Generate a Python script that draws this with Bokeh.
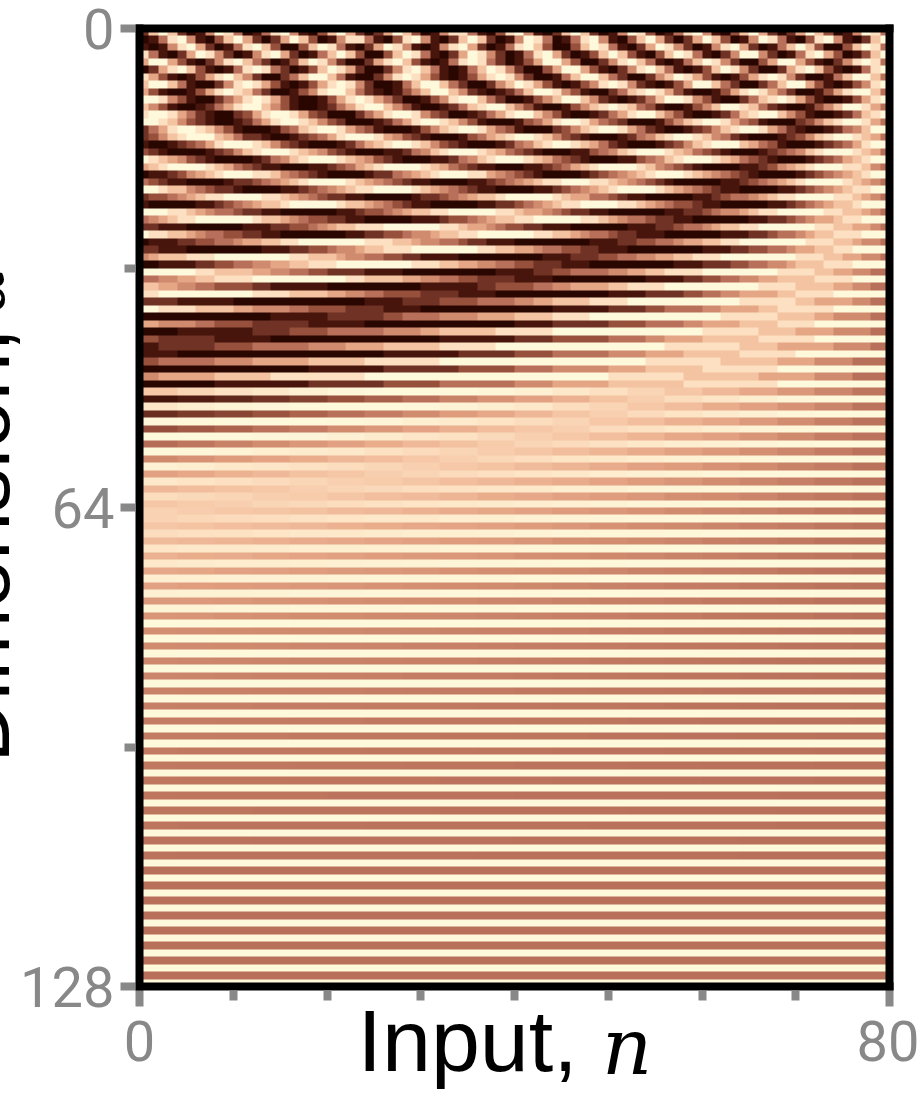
import numpy as np
from bokeh.embed import file_html
from bokeh.resources import INLINE
from bokeh.plotting import figure
from bokeh.models import FixedTicker, LinearAxis, LinearColorMapper, Range1d

# Heat map, one pair of rows per entry below.
# Every entry reads the row from the RIGHT edge of the chart to the left.
LEVELS = {"0": -1.0, "1": -0.75, "2": -0.5, "3": -0.25, "4": 0.0, "5": 0.2, "6": 0.4, "7": 0.6, "8": 0.8, "9": 1.0}

fast_rows = [
 ("4895103796"+"2026973015"+"9841038951"+"0279720159"+"8301488510"+"3796202697"+"3015984104"+"8951027972",
  "9720159830"+"1489510379"+"6202697301"+"5984104895"+"1027972015"+"9830148851"+"0379620269"+"7301598410"),
 ("4897300379"+"7410269851"+"0258962014"+"8973003798"+"4102698510"+"1589620148"+"9730037984"+"1026985101",
  "9731036984"+"1025995201"+"4897301379"+"7310269841"+"0258962014"+"8973003797"+"4102698510"+"2589620148"),
 ("4898520136"+"9963002589"+"7410147985"+"2003699631"+"0248984101"+"3798620025"+"8973102479"+"8520136996",
  "9841013798"+"6200258973"+"1014798520"+"1369963002"+"5897410147"+"9852002689"+"7310248984"+"1013798620"),
 ("4799741002"+"5898631013"+"6897520024"+"7997410025"+"8986310136"+"8985200147"+"9974200257"+"9863101368",
  "9853101369"+"9742002479"+"9631012589"+"8531013689"+"7520024799"+"7410025898"+"6310136898"+"5200147997"),
 ("4799863100"+"2468986310"+"0136898742"+"0013589974"+"2101257997"+"5310124799"+"8531002478"+"9863100136",
  "9863100136"+"8987420013"+"5899742101"+"2579975310"+"0247998531"+"0024689863"+"1001368986"+"4200135899"),
 ("4689975310"+"0124789975"+"3100134789"+"8753100135"+"7998742100"+"1357998642"+"1001357998"+"6421001357",
  "9874210013"+"5799874210"+"0135799864"+"2100135799"+"8642100235"+"8998642000"+"2368998632"+"0012468998"),
 ("4689987532"+"0001346899"+"8753100023"+"4689986431"+"0001357899"+"8642100023"+"5789986421"+"0012357899",
  "9975421001"+"2468998753"+"2100124689"+"9875320001"+"3468998753"+"1000134689"+"9874310001"+"3578998642"),
 ("4678998753"+"2100012457"+"8998754210"+"0012357899"+"8764310001"+"2356899986"+"4321001224"+"6799987532",
  "9986432100"+"0134679998"+"7532100012"+"4678998754"+"2100012357"+"8998764210"+"0012357899"+"9864321001"),
 ("4678999875"+"4321000123"+"4678999875"+"4311000123"+"4678999875"+"4211000123"+"5678999875"+"3210000123",
  "9987643210"+"0012346789"+"9987543110"+"0012346789"+"9987542110"+"0012356789"+"9987542100"+"0012356789"),
 ("4578899987"+"6532110000"+"1234578999"+"9876432110"+"0011234678"+"9999876432"+"1100011234"+"6789999876",
  "9987654321"+"0000123456"+"7899987654"+"3210000123"+"4568899987"+"6542210000"+"1234578899"+"9876532110"),
 ("4567899998"+"7654321100"+"0001234567"+"8899988765"+"4321100001"+"1234567899"+"9987654322"+"1000011234",
  "9988765432"+"1100001123"+"4567899998"+"7654321100"+"0011234567"+"8999988765"+"4321100001"+"2234577899"),
 ("4567889999"+"8876544321"+"1000001123"+"4466789999"+"9877654322"+"1000001122"+"3456788999"+"9887654332",
  "9998776543"+"2110000011"+"2334567889"+"9998876543"+"2211000001"+"1234567789"+"9999877654"+"3211000001"),
 ("4567788999"+"9988765543"+"2211000000"+"1122345667"+"8899999887"+"7654332110"+"0000011223"+"4456788999",
  "9998876654"+"3221100000"+"0112234456"+"7889999988"+"7765433211"+"1000001122"+"3345677899"+"9999887654"),
 ("4566778899"+"9999887765"+"4432211100"+"0000111223"+"3456678899"+"9999888776"+"5433221110"+"0000011122",
  "9998887765"+"4432211100"+"0000111223"+"4456778899"+"9999887765"+"5433221100"+"0000011223"+"3445677889"),
 ("4556778889"+"9999998877"+"6654433221"+"1100000000"+"1112234455"+"6778889999"+"9998877665"+"4433221110",
  "9999887766"+"5443322111"+"0000000011"+"1223344566"+"7788999999"+"9888776554"+"3322111000"+"0000011122"),
 ("4556677888"+"9999999988"+"8776655443"+"3222111000"+"0000001111"+"2233445567"+"7788999999"+"9988877765",
  "9999888777"+"6554433222"+"1110000000"+"0011122233"+"4455667788"+"8999999998"+"8877665544"+"3322111100"),
 ("4567889999"+"8876544321"+"1000001122"+"3456778999", "9988776543"+"2110000011"+"2234567789"+"9999887654"),
 ("4567788999"+"9988766543"+"3211100000"+"1112334567", "9998876654"+"3221100000"+"0112233456"+"7788999998"),
 ("4566788899"+"9999887765"+"4433221100"+"0000011122", "9998887665"+"4432211100"+"0000011223"+"3455677889"),
 ("4556778889"+"9999998877"+"6655443222"+"1110000000", "9999887766"+"5443322211"+"0000000011"+"1222334556"),
 ("4556677888"+"9999999988"+"8777655444"+"3322111100", "9999888777"+"6654433322"+"1111000000"+"0001112223"),
 ("4556667788"+"8899999999"+"9888777665"+"5444332221", "9999988877"+"7665544433"+"2221111000"+"0000000011"),
 ("4455667778"+"8889999999"+"9999888877"+"7666554443", "9999998888"+"7776655544"+"3332222111"+"1000000000"),
 ("4455666777"+"7888899999"+"9999999988"+"8887776665", "9999998888"+"8777766655"+"4444333222"+"2111110000"),
]

# Slow rows: percent of the colour scale's half-range, one number per four columns.
slow_rows = [
 ([5,17,29,42,53,63,72,80,87,93,97,99,100,99,97,93,87,81,73,64],
  [100,98,96,91,85,78,69,60,48,37,26,14,0,-12,-24,-36,-48,-59,-68,-77]),
 ([3,16,26,36,45,56,64,72,79,86,91,95,98,99,100,99,97,95,91,85],
  [100,99,97,93,89,83,77,69,62,52,42,33,21,10,0,-10,-22,-33,-42,-53]),
 ([3,12,22,31,41,48,57,64,72,78,83,88,92,96,98,99,100,100,98,97],
  [100,99,97,95,91,87,82,77,69,63,56,47,39,29,21,10,2,-9,-17,-26]),
 ([3,10,19,28,36,42,50,57,64,69,75,81,85,89,93,96,97,99,100,100],
  [100,99,98,96,93,91,87,82,77,72,66,59,53,45,37,29,22,14,5,-2]),
 ([3,10,17,24,31,37,44,50,56,62,67,72,77,82,86,89,92,95,97,98],
  [100,99,98,97,95,93,90,87,83,79,74,69,64,57,52,45,39,33,26,19]),
 ([2,9,14,21,26,33,37,44,50,54,60,64,69,73,78,81,85,87,91,93],
  [100,100,99,98,97,95,93,90,87,84,80,77,72,68,63,59,53,48,42,37]),
 ([2,7,12,17,22,28,33,39,44,48,53,57,62,66,69,73,77,80,83,86],
  [100,100,99,98,97,96,95,92,90,87,85,82,79,75,72,68,64,60,56,52]),
 ([2,7,10,16,21,24,29,34,37,42,45,50,54,57,62,66,68,72,75,78],
  [100,100,99,99,98,97,96,94,93,91,89,87,84,82,79,75,73,69,66,63]),
 ([2,5,9,14,17,21,26,29,33,37,41,44,48,52,54,59,62,64,67,71],
  [100,100,100,99,98,98,97,96,95,93,91,90,87,86,84,81,79,77,74,71]),
 ([2,5,9,12,16,19,22,26,29,33,36,39,42,45,48,52,54,57,60,63],
  [100,100,100,99,99,98,97,97,96,95,93,92,91,89,87,86,84,82,80,78]),
 ([2,3,7,10,12,16,19,22,24,28,31,33,36,39,42,44,47,50,52,54],
  [100,100,100,99,99,99,98,97,97,96,95,95,93,92,91,90,88,87,86,84]),
 ([1,4,6,9,11,14,17,19,22,24,27,29,32,34,36,39,41,44,45,48],
  [100,100,100,100,99,99,99,98,98,97,96,96,95,94,93,92,91,90,89,87]),
 ([1,3,5,8,10,12,14,17,19,21,23,25,28,29,32,34,36,37,40,42],
  [100,100,100,100,100,99,99,99,98,98,97,97,96,96,95,94,93,93,92,91]),
 ([1,3,5,7,9,10,12,14,16,18,20,22,24,26,28,29,31,33,35,37],
  [100,100,100,100,100,99,99,99,99,98,98,98,97,97,96,96,95,94,94,93]),
 ([1,2,4,6,7,9,11,12,14,16,17,19,21,22,24,26,27,29,31,32],
  [100,100,100,100,100,100,99,99,99,99,98,98,98,97,97,97,96,96,95,95]),
 ([0,2,4,5,6,8,9,11,12,14,15,17,18,19,21,22,24,25,27,28], [100]),
 ([0,2,3,4,6,7,8,9,11,12,13,14,16,17,18,19,21,22,23,24], [100]),
 ([0,2,3,4,5,6,7,8,9,10,11,13,14,15,16,17,18,19,20,21], [100]),
 ([0,1,2,3,4,5,6,7,8,9,10,11,12,13,14,14,15,16,17,18], [100]),
 ([0,1,2,3,4,4,5,6,7,8,9,9,10,11,12,13,13,14,15,16], [100]),
 ([0,1,2,2,3,4,5,5,6,7,8,8,9,10,11,11,12,13,13,14], [100]),
 ([0,1,1,2,3,3,4,5,5,6,6,7,8,8,9,10,10,11,11,12], [100]),
 ([0,1,1,2,2,3,3,4,5,5,6,6,7,7,8,8,9,9,10,10], [100]),
 ([0,0,1,1,2,2,3,3,4,4,5,5,6,6,7,7,8,8,9,9], [100]),
 ([0,0,1,1,2,2,3,3,3,4,4,5,5,5,6,6,7,7,7,8], [100]),
 ([0,0,1,1,1,2,2,3,3,3,4,4,4,5,5,5,6,6,6,7], [100]),
 ([0,0,1,1,1,2,2,2,2,3,3,3,4,4,4,4,5,5,5,6], [100]),
 ([0,0,0,1,1,1,2,2,2,2,3,3,3,3,3,4,4,4,4,5], [100]),
 ([0,0,0,1,1,1,1,2,2,2,2,2,3,3,3,3,3,4,4,4], [100]),
 ([0,0,0,1,1,1,1,1,2,2,2,2,2,2,3,3,3,3,3,4], [100]),
 ([0,0,0,0,1,1,1,1,1,1,2,2,2,2,2,2,2,3,3,3], [100]),
 ([0,0,0,0,1,1,1,1,1,1,1,2,2,2,2,2,2,2,2,3], [100]),
 ([0], [100]), ([0], [100]), ([0], [100]), ([0], [100]),
 ([0], [100]), ([0], [100]), ([0], [100]), ([0], [100]),
]

n_columns = 80
n_rows = 128
x_major = [0, 80]
x_minor = [10, 20, 30, 40, 50, 60, 70]
y_major = [0, 64, 128]
y_minor = [32, 96]
x_title = "Input,"
x_symbol = "n"
y_title = "Dimension,"
y_symbol = "α"

color_values = [-1.0, -0.75, -0.5, -0.25, 0.0, 0.2, 0.4, 0.6, 0.8, 1.0]
color_stops = ["#2a0600", "#47150c", "#6f3224", "#96503c", "#b86f5a",
               "#d08a6e", "#e5a585", "#f4c3a2", "#fcdfc0", "#fff9dc"]


def expand(vals):
    vals = np.asarray(vals, dtype=float)
    assert n_columns % len(vals) == 0, len(vals)
    return np.repeat(vals, n_columns // len(vals))[::-1]


z_rows = []
for pair in fast_rows:
    z_rows += [expand([LEVELS[ch] for ch in s]) for s in pair]
for pair in slow_rows:
    z_rows += [expand(np.array(s) / 100.0) for s in pair]
z = np.array(z_rows)
assert z.shape == (n_rows, n_columns)

stops_rgb = np.array([[int(c[i:i + 2], 16) for i in (1, 3, 5)] for c in color_stops], dtype=float)
palette = ["#%02x%02x%02x" % tuple(int(round(np.interp(g, color_values, stops_rgb[:, i]))) for i in range(3))
           for g in np.linspace(-1, 1, 256)]
mapper = LinearColorMapper(palette=palette, low=-1, high=1)

# The canvas starts left of and above the window: the reference cuts off the y title at the window's edge.
OFF_X, OFF_Y = 130, 8
p = figure(width=919 + OFF_X, height=1094 + OFF_Y, output_backend="svg", toolbar_location=None,
           x_range=Range1d(0, n_columns), y_range=Range1d(n_rows, 0),
           min_border_left=139 + OFF_X, min_border_right=30, min_border_top=28 + OFF_Y, min_border_bottom=108,
           background_fill_color="white", border_fill_color="white",
           styles={"margin-left": f"-{OFF_X}px", "margin-top": f"-{OFF_Y}px"})
p.grid.visible = False
p.outline_line_color = None
p.image(image=[z], x=0, y=0, dw=n_columns, dh=n_rows, color_mapper=mapper)

GRAY = "#888888"
for ax, major, minor, out_major, out_minor in (
        (p.xaxis[0], x_major, x_minor, 20, 14), (p.yaxis[0], y_major, y_minor, 19, 15)):
    ax.ticker = FixedTicker(ticks=major, minor_ticks=minor)
    ax.axis_line_color = "black"
    ax.axis_line_width = 8
    ax.axis_line_cap = "square"
    ax.major_tick_line_color = GRAY
    ax.minor_tick_line_color = GRAY
    ax.major_tick_line_width = 8
    ax.minor_tick_line_width = 8
    ax.major_tick_in = -4
    ax.minor_tick_in = -4
    ax.major_tick_out = out_major
    ax.minor_tick_out = out_minor
    ax.major_label_text_color = GRAY
    ax.major_label_text_font = "Roboto"
    ax.major_label_text_font_size = "56px"
p.yaxis[0].major_label_standoff = 6
# The x axis keeps only its ticks here; its numbers come last in the stack below the frame.
p.xaxis[0].major_label_standoff = 0
p.xaxis[0].major_label_text_font_size = "1px"
p.xaxis[0].major_label_text_color = None

for side in ("above", "right"):
    spine = LinearAxis(ticker=FixedTicker(ticks=[]), axis_line_color="black", axis_line_width=8,
                       axis_line_cap="square", major_tick_line_color=None, minor_tick_line_color=None)
    p.add_layout(spine, side)


def text_axis(side, where, text, font, size, standoff, style="normal", orientation="horizontal"):
    ax = LinearAxis(ticker=FixedTicker(ticks=[where]), major_label_overrides={where: text},
                    major_label_standoff=standoff, major_label_text_font=font, major_label_text_font_size=size,
                    major_label_text_font_style=style, major_label_text_color="black",
                    major_label_orientation=orientation,
                    axis_line_color=None, major_tick_line_color=None, minor_tick_line_color=None,
                    major_tick_out=0, major_tick_in=0)
    p.add_layout(ax, side)


text_axis("below", 35, x_title, "Liberation Sans", "88px", -16)
text_axis("below", 52, x_symbol, "DejaVu Serif", "78px", -91, style="italic")
x_numbers = LinearAxis(ticker=FixedTicker(ticks=x_major), major_label_standoff=-74,
                       major_label_text_font="Roboto", major_label_text_font_size="56px",
                       major_label_text_color=GRAY, axis_line_color=None, major_tick_line_color=None,
                       minor_tick_line_color=None, major_tick_out=0, major_tick_in=0)
p.add_layout(x_numbers, "below")

text_axis("left", 40, y_title, "Liberation Sans", "87px", 39, orientation=np.pi / 2)
text_axis("left", 32, y_symbol, "DejaVu Serif", "68px", -102, style="italic", orientation=np.pi / 2)

open("out.html", "w").write(file_html(p, INLINE))
